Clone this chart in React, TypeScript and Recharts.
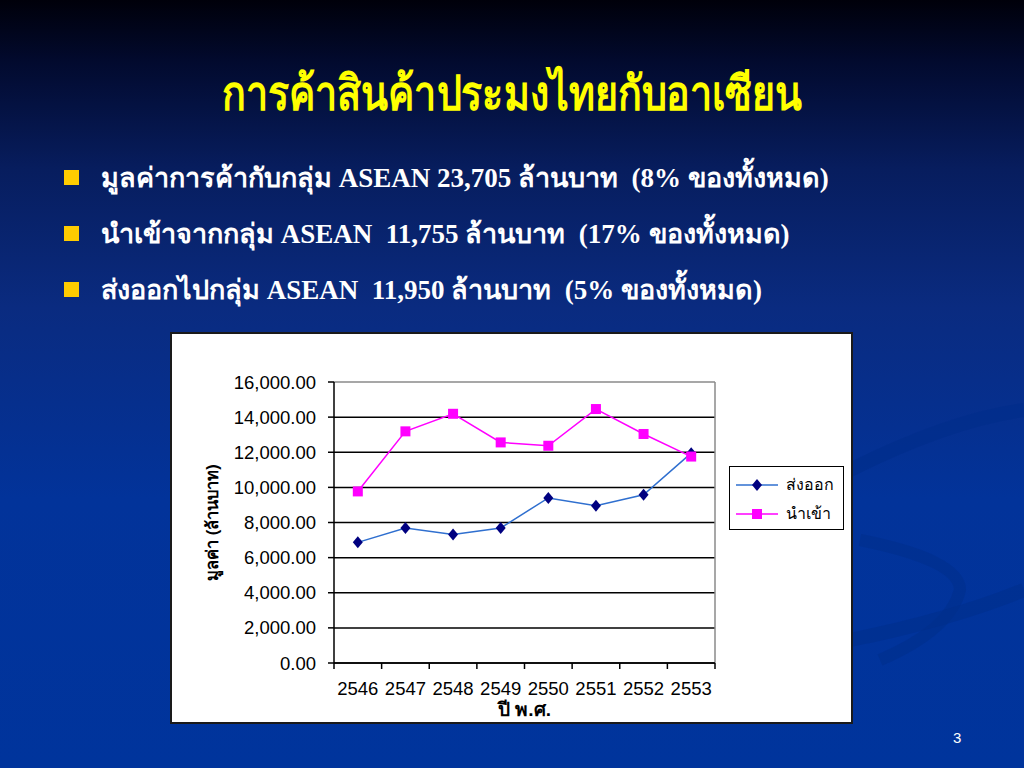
import React from 'react';
import { LineChart, Line, XAxis, YAxis, CartesianGrid, Legend } from 'recharts';

const years = ['2546', '2547', '2548', '2549', '2550', '2551', '2552', '2553'];
const exportValues = [6870, 7690, 7320, 7690, 9400, 8960, 9580, 11950];
const importValues = [9770, 13190, 14190, 12560, 12370, 14460, 13040, 11755];
const yTicks = [0, 2000, 4000, 6000, 8000, 10000, 12000, 14000, 16000];

const exportName = 'ส่งออก';
const importName = 'นำเข้า';

const data = years.map((y, i) => ({ year: y, exp: exportValues[i], imp: importValues[i] }));

const bullets = [
  'มูลค่าการค้ากับกลุ่ม ASEAN 23,705 ล้านบาท  (8% ของทั้งหมด)',
  'นำเข้าจากกลุ่ม ASEAN  11,755 ล้านบาท  (17% ของทั้งหมด)',
  'ส่งออกไปกลุ่ม ASEAN  11,950 ล้านบาท  (5% ของทั้งหมด)',
];

const sans = '"Liberation Sans", Arial, sans-serif';
const serif = '"Liberation Serif", "Times New Roman", serif';

const EXP_LINE = '#2f6fcf';
const EXP_DOT = '#000080';
const IMP = '#ff00ff';

const Diamond = (props: any) => {
  const { cx, cy } = props;
  if (cx == null || cy == null) return null;
  return <polygon points={`${cx},${cy - 6} ${cx + 5},${cy} ${cx},${cy + 6} ${cx - 5},${cy}`} fill={EXP_DOT} />;
};

const Square = (props: any) => {
  const { cx, cy } = props;
  if (cx == null || cy == null) return null;
  return <rect x={cx - 5} y={cy - 5} width={10} height={10} fill={IMP} />;
};

const XTick = (props: any) => {
  const { x, y, payload, index, width, visibleTicksCount } = props;
  const n = visibleTicksCount || years.length;
  const band = width / n;
  const last = index === n - 1;
  return (
    <g>
      <line x1={x - band / 2} x2={x - band / 2} y1={y - 8} y2={y - 2} stroke="#000" strokeWidth={1.5} />
      {last && <line x1={x + band / 2} x2={x + band / 2} y1={y - 8} y2={y - 2} stroke="#000" strokeWidth={1.5} />}
      <text x={x} y={y + 24} textAnchor="middle" fontSize={18.5} fontFamily={sans} fill="#000">
        {payload.value}
      </text>
    </g>
  );
};

const LegendBox = () => (
  <div
    style={{
      width: 113,
      height: 62,
      border: '1.5px solid #000',
      background: '#fff',
      fontFamily: sans,
      fontSize: 16,
      color: '#000',
      boxSizing: 'content-box',
    }}
  >
    {[
      { name: exportName, color: EXP_LINE, mark: 'd' },
      { name: importName, color: IMP, mark: 's' },
    ].map((it, i) => (
      <div key={it.name} style={{ display: 'flex', alignItems: 'center', height: 31, marginTop: i === 0 ? 2 : -2 }}>
        <svg width={50} height={14} style={{ marginLeft: 4 }}>
          <line x1={2} x2={44} y1={7} y2={7} stroke={it.color} strokeWidth={1.5} />
          {it.mark === 'd' ? (
            <polygon points="23,1 28,7 23,13 18,7" fill={EXP_DOT} />
          ) : (
            <rect x={18} y={2} width={10} height={10} fill={IMP} />
          )}
        </svg>
        <span style={{ marginLeft: 2 }}>{it.name}</span>
      </div>
    ))}
  </div>
);

export default function App() {
  return (
    <div
      style={{
        position: 'fixed',
        left: 0,
        top: 0,
        width: 1024,
        height: 768,
        overflow: 'hidden',
        background: 'linear-gradient(180deg, #00000a 0%, #020a2e 8%, #071d5e 22%, #0a2b80 40%, #02339a 65%, #00349c 100%)',
      }}
    >
      <svg width={1024} height={768} style={{ position: 'absolute', left: 0, top: 0 }}>
        <path d="M 850 470 Q 950 420 1024 410" stroke="#002d8a" strokeWidth={14} fill="none" opacity={0.6} />
        <path d="M 860 540 Q 960 560 960 590 Q 950 630 880 660" stroke="#002d8a" strokeWidth={12} fill="none" opacity={0.5} />
        <path d="M 850 640 Q 950 620 1024 590" stroke="#002d8a" strokeWidth={14} fill="none" opacity={0.5} />
      </svg>
      <div
        style={{
          position: 'absolute',
          left: 0,
          width: 1024,
          top: 64,
          textAlign: 'center',
          color: '#ffff00',
          fontFamily: serif,
          fontWeight: 'bold',
          fontSize: 48,
          lineHeight: '60px',
        }}
      >
        <span style={{ display: 'inline-block', transform: 'scaleX(0.82)' }}>การค้าสินค้าประมงไทยกับอาเซียน</span>
      </div>
      {bullets.map((b, i) => (
        <div key={i} style={{ position: 'absolute', left: 64, top: 157 + i * 56, height: 40, display: 'flex', alignItems: 'center' }}>
          <div style={{ width: 15, height: 15, background: '#ffcc00', marginRight: 22 }} />
          <div style={{ color: '#fff', fontFamily: serif, fontWeight: 'bold', fontSize: 27, whiteSpace: 'pre' }}>{b}</div>
        </div>
      ))}
      <div style={{ position: 'absolute', left: 953, top: 729, color: '#fff', fontFamily: sans, fontSize: 15 }}>3</div>
      <div
        style={{
          position: 'absolute',
          left: 170,
          top: 332,
          width: 679,
          height: 388,
          border: '2px solid #1a1a1a',
          background: '#fff',
        }}
      >
        <LineChart width={679} height={388} data={data} margin={{ top: 48, right: 136, bottom: 5, left: 42 }}>
          <CartesianGrid
            vertical={false}
            stroke="#000"
            strokeWidth={1.5}
            horizontalCoordinatesGenerator={({ offset }: any) =>
              yTicks.slice(0, -1).map((t) => offset.top + offset.height - (t / 16000) * offset.height)
            }
          />
          <CartesianGrid
            stroke="#8a8a8a"
            strokeWidth={1.5}
            horizontalCoordinatesGenerator={({ offset }: any) => [offset.top]}
            verticalCoordinatesGenerator={({ offset }: any) => [offset.left + offset.width]}
          />
          <XAxis
            dataKey="year"
            scale="band"
            height={54}
            axisLine={{ stroke: '#000', strokeWidth: 1.5 }}
            tickLine={false}
            tick={<XTick />}
            interval={0}
            label={{
              value: 'ปี พ.ศ.',
              position: 'insideBottom',
              offset: 1,
              style: { fontFamily: sans, fontWeight: 'bold', fontSize: 19, fill: '#000' },
            }}
          />
          <YAxis
            width={120}
            domain={[0, 16000]}
            ticks={yTicks}
            interval={0}
            axisLine={{ stroke: '#000', strokeWidth: 1.5 }}
            tickLine={{ stroke: '#000', strokeWidth: 1.5 }}
            tickSize={6}
            tickMargin={12}
            tick={{ fontFamily: sans, fontSize: 18.5, fill: '#000' }}
            tickFormatter={(v: number) => v.toLocaleString('en-US', { minimumFractionDigits: 2, maximumFractionDigits: 2 })}
            label={{
              value: 'มูลค่า (ล้านบาท)',
              angle: -90,
              position: 'insideLeft',
              offset: -2,
              style: { textAnchor: 'middle', fontFamily: sans, fontWeight: 'bold', fontSize: 16.5, fill: '#000' },
            }}
          />
          <Legend
            layout="horizontal"
            verticalAlign="middle"
            align="center"
            content={<LegendBox />}
            wrapperStyle={{ left: 557, top: 132, width: 117 }}
          />
          <Line
            type="linear"
            dataKey="exp"
            name={exportName}
            stroke={EXP_LINE}
            strokeWidth={1.5}
            dot={<Diamond />}
            activeDot={false}
            isAnimationActive={false}
          />
          <Line
            type="linear"
            dataKey="imp"
            name={importName}
            stroke={IMP}
            strokeWidth={1.5}
            dot={<Square />}
            activeDot={false}
            isAnimationActive={false}
          />
        </LineChart>
      </div>
    </div>
  );
}
